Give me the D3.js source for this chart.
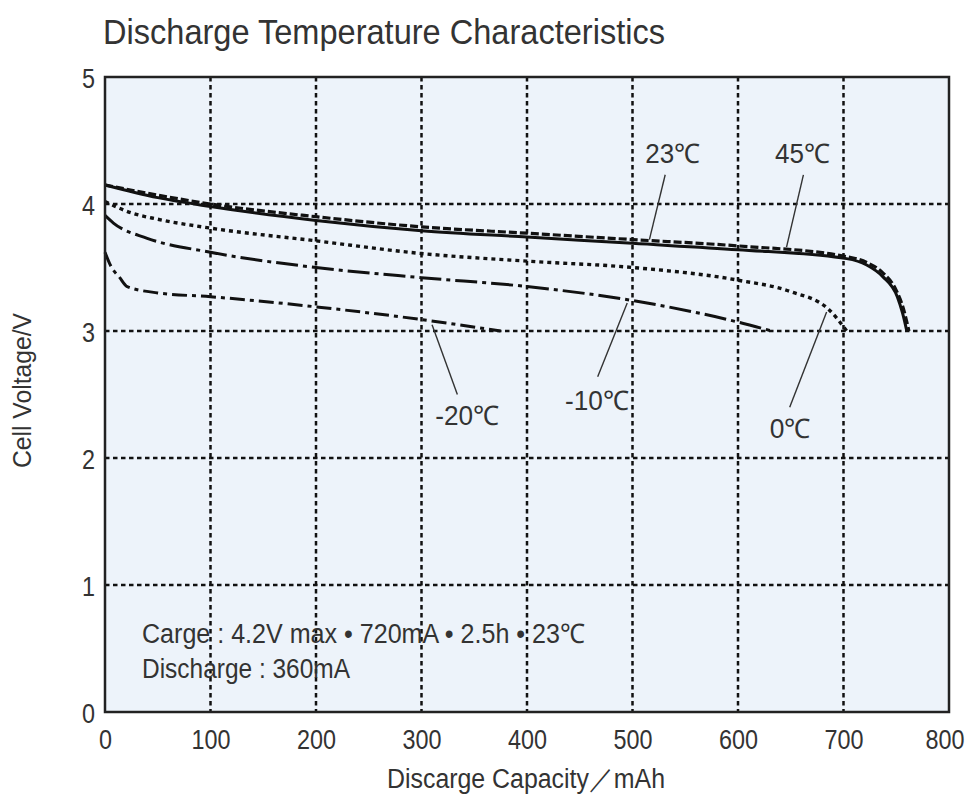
<!DOCTYPE html>
<html>
<head>
<meta charset="utf-8">
<script src="https://cdn.jsdelivr.net/npm/d3@7/dist/d3.min.js"></script>
<style>
    body { margin: 0; background: #fff; }
    text { font-family: "Liberation Sans Narrow", "Arial Narrow", "Liberation Sans", sans-serif; fill: #333; }
</style>
</head>
<body>
<div id="chart"></div>
<script>
'use strict';

// capacity in mAh, voltage in V
let cap45 = [0, 50, 100, 200, 300, 400, 500, 600, 700, 722, 737, 750, 757, 762];
let volt45 = [4.15, 4.07, 4.00, 3.90, 3.82, 3.77, 3.72, 3.67, 3.59, 3.54, 3.46, 3.32, 3.17, 3.00];

let cap23 = [0, 50, 100, 200, 300, 400, 500, 600, 703, 722, 737, 751, 756, 760];
let volt23 = [4.15, 4.05, 3.98, 3.87, 3.79, 3.74, 3.69, 3.64, 3.57, 3.52, 3.43, 3.27, 3.14, 3.00];

let cap0 = [0, 25, 50, 100, 200, 300, 400, 500, 600, 650, 686, 703];
let volt0 = [4.02, 3.93, 3.88, 3.81, 3.71, 3.61, 3.55, 3.50, 3.40, 3.31, 3.17, 3.00];

let capM10 = [0, 8, 40, 100, 200, 300, 400, 500, 600, 632];
let voltM10 = [3.91, 3.85, 3.73, 3.62, 3.50, 3.42, 3.35, 3.24, 3.07, 3.00];

let capM20 = [0, 5, 14, 21, 50, 100, 200, 300, 375];
let voltM20 = [3.62, 3.52, 3.42, 3.35, 3.30, 3.27, 3.19, 3.09, 3.00];

let xTicks = [0, 100, 200, 300, 400, 500, 600, 700, 800];
let yTicks = [0, 1, 2, 3, 4, 5];

// label text, label anchor and leader line, in data units
let labelNames = ['23℃', '45℃', '-20℃', '-10℃', '0℃'];
let labelAt = [[512, 4.32], [635, 4.32], [313, 2.26], [436, 2.38], [630, 2.16]];
let leaderFrom = [[531, 4.23], [662, 4.23], [310, 3.05], [495, 3.22], [684, 3.15]];
let leaderTo = [[516, 3.72], [646, 3.66], [334, 2.50], [467, 2.64], [649, 2.40]];

let W = 971, H = 798;
let x = d3.scaleLinear().domain([0, 800]).range([105, 949]);
let y = d3.scaleLinear().domain([0, 5]).range([712, 77]);

draw();

function zip(a, b) {
    return a.map(function (v, i) { return [v, b[i]]; });
}

// rough width of a narrow-font label
function labelWidth(s) {
    return s.split('').reduce(function (w, c) {
        if (c === '℃') return w + 27;
        if (c === '-') return w + 9;
        return w + 14;
    }, 0);
}

function draw() {
    let svg = d3.select('#chart').append('svg')
        .attr('width', W)
        .attr('height', H);

    // plot background
    svg.append('rect')
        .attr('x', x(0)).attr('y', y(5))
        .attr('width', x(800) - x(0)).attr('height', y(0) - y(5))
        .attr('fill', '#edf3fa');

    // dotted grid
    let grid = svg.append('g')
        .attr('stroke', '#111')
        .attr('stroke-width', 2.5)
        .attr('stroke-dasharray', '4.5,3.5');
    grid.selectAll('.gx')
        .data(xTicks.filter(function (d) { return d > 0 && d < 800; }))
        .enter().append('line')
        .attr('x1', function (d) { return x(d); })
        .attr('x2', function (d) { return x(d); })
        .attr('y1', y(5)).attr('y2', y(0));
    grid.selectAll('.gy')
        .data(yTicks.filter(function (d) { return d > 0 && d < 5; }))
        .enter().append('line')
        .attr('y1', function (d) { return y(d); })
        .attr('y2', function (d) { return y(d); })
        .attr('x1', x(0)).attr('x2', x(800));

    // curves
    let line = d3.line()
        .x(function (d) { return x(d[0]); })
        .y(function (d) { return y(d[1]); })
        .curve(d3.curveMonotoneX);

    let series = [
        { pts: zip(capM20, voltM20), dash: '15,5,4,5', w: 3 },
        { pts: zip(capM10, voltM10), dash: '22,5,4,5', w: 3 },
        { pts: zip(cap0, volt0), dash: '4,4', w: 3.4 },
        { pts: zip(cap23, volt23), dash: null, w: 3 },
        { pts: zip(cap45, volt45), dash: '8,3', w: 3.2 }
    ];
    svg.append('g').selectAll('path')
        .data(series)
        .enter().append('path')
        .attr('d', function (d) { return line(d.pts); })
        .attr('fill', 'none')
        .attr('stroke', '#111')
        .attr('stroke-width', function (d) { return d.w; })
        .attr('stroke-dasharray', function (d) { return d.dash; });

    // frame
    svg.append('rect')
        .attr('x', x(0)).attr('y', y(5))
        .attr('width', x(800) - x(0)).attr('height', y(0) - y(5))
        .attr('fill', 'none')
        .attr('stroke', '#222')
        .attr('stroke-width', 2.5);

    // axes labels
    let xAxis = svg.append('g')
        .attr('transform', 'translate(0,' + y(0) + ')')
        .call(d3.axisBottom(x).tickValues(xTicks).tickSize(0).tickPadding(37)
            .tickFormat(d3.format('d')));
    let yAxis = svg.append('g')
        .attr('transform', 'translate(' + x(0) + ',0)')
        .call(d3.axisLeft(y).tickValues(yTicks).tickSize(0).tickPadding(10)
            .tickFormat(d3.format('d')));
    [xAxis, yAxis].forEach(function (g) {
        g.select('.domain').remove();
        g.selectAll('text')
            .attr('font-family', null)
            .style('font-size', '28px')
            .attr('textLength', function (d) { return String(d).length * 13; })
            .attr('lengthAdjust', 'spacingAndGlyphs')
            .attr('fill', '#333');
    });
    xAxis.selectAll('text').attr('dy', 0);
    xAxis.selectAll('.tick').filter(function (d) { return d === 800; })
        .attr('transform', 'translate(' + (x(800) - 4) + ',0)');
    yAxis.selectAll('text').attr('dy', '0.36em');

    // leader lines and temperature labels
    let labels = svg.append('g');
    labels.selectAll('line')
        .data(labelNames)
        .enter().append('line')
        .attr('x1', function (d, i) { return x(leaderFrom[i][0]); })
        .attr('y1', function (d, i) { return y(leaderFrom[i][1]); })
        .attr('x2', function (d, i) { return x(leaderTo[i][0]); })
        .attr('y2', function (d, i) { return y(leaderTo[i][1]); })
        .attr('stroke', '#333')
        .attr('stroke-width', 1.4);
    labels.selectAll('text')
        .data(labelNames)
        .enter().append('text')
        .attr('x', function (d, i) { return x(labelAt[i][0]); })
        .attr('y', function (d, i) { return y(labelAt[i][1]); })
        .style('font-size', '27px')
        .attr('textLength', labelWidth)
        .attr('lengthAdjust', 'spacingAndGlyphs')
        .text(function (d) { return d; });

    // titles
    svg.append('text')
        .attr('x', 103).attr('y', 44)
        .attr('textLength', 562).attr('lengthAdjust', 'spacingAndGlyphs')
        .style('font-size', '35px')
        .attr('fill', '#222')
        .text('Discharge Temperature Characteristics');

    svg.append('text')
        .attr('x', 387).attr('y', 788)
        .attr('textLength', 278).attr('lengthAdjust', 'spacingAndGlyphs')
        .style('font-size', '27px')
        .text('Discarge Capacity／mAh');

    svg.append('text')
        .attr('transform', 'translate(31,468) rotate(-90)')
        .attr('textLength', 155).attr('lengthAdjust', 'spacingAndGlyphs')
        .style('font-size', '26px')
        .text('Cell Voltage/V');

    // test conditions note
    svg.append('text')
        .attr('x', 142).attr('y', 643)
        .attr('textLength', 443).attr('lengthAdjust', 'spacingAndGlyphs')
        .style('font-size', '27px')
        .text('Carge : 4.2V max • 720mA • 2.5h • 23℃');
    svg.append('text')
        .attr('x', 142).attr('y', 678)
        .attr('textLength', 208).attr('lengthAdjust', 'spacingAndGlyphs')
        .style('font-size', '27px')
        .text('Discharge : 360mA');
}
</script>
</body>
</html>
